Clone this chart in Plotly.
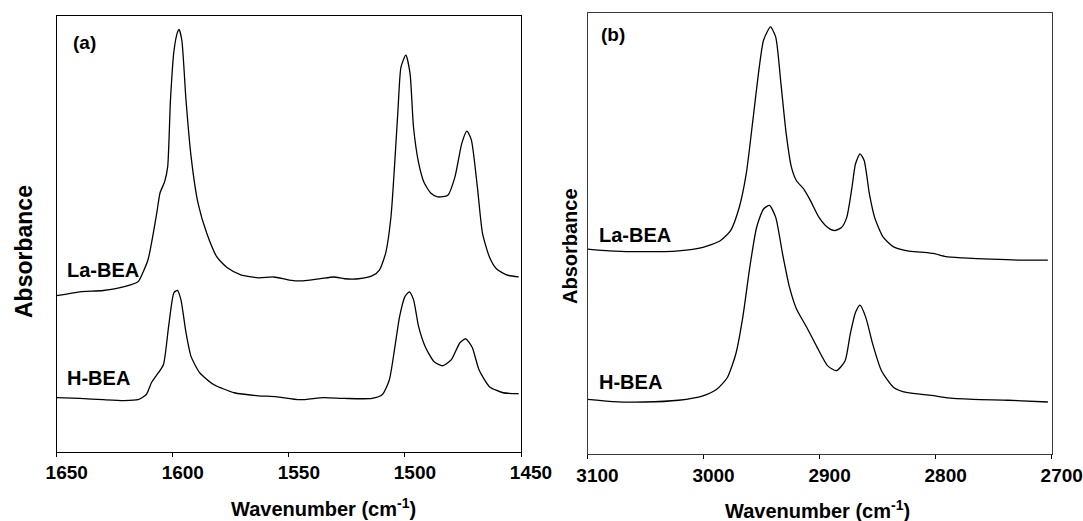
import plotly.graph_objects as go

# Panel (a): 1650-1450 cm-1
wn_a_la = [1650, 1640, 1630, 1620, 1615, 1614.4, 1610.7, 1606.9, 1605.5, 1603.5, 1602.2, 1601, 1599.5, 1598,
           1597.3, 1596.1, 1594.3, 1592.1, 1589.1, 1585.4, 1581, 1576.5, 1570.7, 1563.1, 1556.5, 1549.8, 1544,
           1536.4, 1530.6, 1526, 1520, 1514, 1511, 1508.3, 1506, 1504.5, 1503, 1501.7, 1499.6, 1497.8, 1496.3,
           1494.1, 1491.9, 1488.9, 1485.9, 1481.5, 1478.5, 1475.5, 1473.3, 1471.4, 1468.8, 1466.6, 1463.6,
           1460.6, 1456.2, 1451]
la_bea_a = [35.8, 36.7, 37.0, 38.0, 39.0, 39.4, 44.0, 54.8, 59.4, 62.0, 65.4, 80.7, 92.0, 96.3,
            97.0, 94.5, 80.7, 67.7, 57.0, 50.2, 44.7, 42.2, 40.6, 39.9, 40.1, 39.4, 39.2,
            39.7, 40.1, 39.7, 39.7, 40.4, 41.7, 45.6, 54.0, 65.4, 78.4, 88.3, 91.1, 86.9, 74.5,
            66.3, 62.0, 59.4, 58.5, 58.9, 63.0, 70.8, 73.6, 71.6, 60.8, 50.2, 44.7,
            42.0, 40.6, 40.1]

wn_a_h = [1650, 1640, 1630, 1621, 1615, 1611.4, 1609.2, 1606.2, 1604, 1601.8, 1599.5, 1598, 1596.5, 1594.3,
          1592.1, 1588.4, 1582.4, 1573.5, 1563.1, 1555.7, 1545.3, 1535, 1526, 1514.2, 1509.7, 1506.7, 1504.5,
          1502.3, 1500, 1498.1, 1496.3, 1494.1, 1491.1, 1487.4, 1483.7, 1480, 1476.3, 1473.8, 1471, 1468.1,
          1463.6, 1457.7, 1451]
h_bea_a = [12.4, 12.2, 11.9, 11.7, 11.9, 13.1, 15.8, 18.1, 20.0, 28.7, 36.5, 37.0, 34.9, 27.3,
           21.8, 18.1, 15.4, 13.5, 12.8, 12.6, 11.9, 12.4, 12.2, 12.2, 13.1, 16.5, 23.4,
           31.0, 35.6, 36.7, 34.9, 28.7, 23.9, 20.6, 19.7, 21.1, 25.0, 25.9, 23.9, 18.8,
           14.9, 13.5, 13.3]

# Panel (b): 3100-2700 cm-1
wn_b_la = [3100, 3081.2, 3051.3, 3021.5, 3000.5, 2985.6, 2976.7, 2969.2, 2963.2, 2957.2, 2952.7, 2948.3,
           2942.3, 2937.8, 2933.3, 2928.8, 2924.3, 2919.9, 2913.9, 2907.9, 2900.5, 2893, 2887, 2881.1,
           2876.6, 2872.1, 2869.1, 2865.2, 2861.6, 2857.1, 2852.6, 2845.2, 2836.2, 2824.3, 2812.3, 2801.9,
           2791.4, 2776.5, 2752.6, 2728.7, 2703.3]
la_bea_b = [46.5, 46.1, 45.9, 46.1, 46.9, 48.4, 50.7, 56.0, 63.6, 76.4, 86.3, 93.9,
            96.9, 94.6, 84.0, 72.7, 65.1, 62.0, 60.2, 57.5, 53.7, 51.4, 50.7, 51.4,
            53.7, 60.5, 65.8, 68.1, 66.6, 59.0, 53.7, 49.2, 47.0, 46.1, 45.8, 45.5,
            44.8, 44.5, 44.2, 44.0, 44.0]

wn_b_h = [3100, 3078.2, 3051.3, 3021.5, 3000.5, 2988.6, 2979.6, 2972.2, 2966.2, 2960.2, 2954.3, 2948.3,
          2943.2, 2937.8, 2931.9, 2925.9, 2919.9, 2911, 2902.1, 2893, 2885.5, 2878.1, 2873.6, 2869.1,
          2865.2, 2860.2, 2854.2, 2846.7, 2836.2, 2824.3, 2803.4, 2791.4, 2767.5, 2737.7, 2703.3]
h_bea_b = [12.4, 11.9, 11.8, 12.2, 13.2, 14.7, 17.3, 22.7, 31.0, 42.3, 51.4, 55.6,
           56.4, 53.7, 45.4, 37.8, 32.9, 28.7, 24.2, 20.0, 18.9, 21.1, 27.2, 32.1,
           33.8, 31.0, 24.9, 18.9, 15.1, 13.9, 13.3, 12.8, 12.4, 12.2, 11.8]

ticks_a = [1650, 1600, 1550, 1500, 1450]
ticks_b = [3100, 3000, 2900, 2800, 2700]

W, H = 1083, 521
FONT = "Liberation Sans, Arial, sans-serif"

def px(x):
    return x / W

def py(y):
    return 1 - y / H

fig = go.Figure()
line = dict(color="black", width=1.3, shape="spline", smoothing=0.6)
fig.add_trace(go.Scatter(x=wn_a_la, y=la_bea_a, mode="lines", line=line, xaxis="x", yaxis="y"))
fig.add_trace(go.Scatter(x=wn_a_h, y=h_bea_a, mode="lines", line=line, xaxis="x", yaxis="y"))
fig.add_trace(go.Scatter(x=wn_b_la, y=la_bea_b, mode="lines", line=line, xaxis="x2", yaxis="y2"))
fig.add_trace(go.Scatter(x=wn_b_h, y=h_bea_b, mode="lines", line=line, xaxis="x2", yaxis="y2"))

xcommon = dict(showgrid=False, zeroline=False, showline=True, linewidth=1, mirror=True,
               ticks="outside", ticklen=4, tickwidth=1, tickcolor="black", automargin=False,
               ticklabelshift=-10,
               tickfont=dict(family=FONT, size=19, color="black", weight="bold"))
ycommon = dict(showgrid=False, zeroline=False, showline=True, linewidth=1, mirror=True,
               showticklabels=False, ticks="", range=[0, 100], automargin=False)

fig.update_layout(
    width=W, height=H, margin=dict(l=0, r=0, t=0, b=0, pad=0, autoexpand=False),
    paper_bgcolor="white", plot_bgcolor="white", showlegend=False,
    xaxis=dict(xcommon, domain=[px(56.7), px(521)], range=[1650, 1450], tickvals=ticks_a,
               anchor="y", linecolor="black"),
    yaxis=dict(ycommon, domain=[py(451.5), py(16.3)], anchor="x", linecolor="black"),
    xaxis2=dict(xcommon, domain=[px(587.5), px(1051.7)], range=[3100, 2700], tickvals=ticks_b,
                anchor="y2", linecolor="#3a3a3a"),
    yaxis2=dict(ycommon, domain=[py(454), py(13.3)], anchor="x2", linecolor="#3a3a3a"),
)

def ann(text, x, y, size, xanchor="center", angle=0):
    fig.add_annotation(text=text, x=px(x), y=py(y), xref="paper", yref="paper", showarrow=False,
                       xanchor=xanchor, yanchor="middle", textangle=angle,
                       font=dict(family=FONT, size=size, color="black", weight="bold"))

ann("Wavenumber (cm<sup>-1</sup>)", 323, 507, 20)
ann("Wavenumber (cm<sup>-1</sup>)", 817, 509, 20)
ann("Absorbance", 24, 252, 23, angle=-90)
ann("Absorbance", 570, 246, 20, angle=-90)
ann("(a)", 71, 43, 19, xanchor="left")
ann("(b)", 599, 35, 19, xanchor="left")
ann("La-BEA", 65, 270, 20, xanchor="left")
ann("H-BEA", 65, 378, 20, xanchor="left")
ann("La-BEA", 596.5, 235, 20, xanchor="left")
ann("H-BEA", 596.5, 382, 20, xanchor="left")

fig.write_html("out.html")
